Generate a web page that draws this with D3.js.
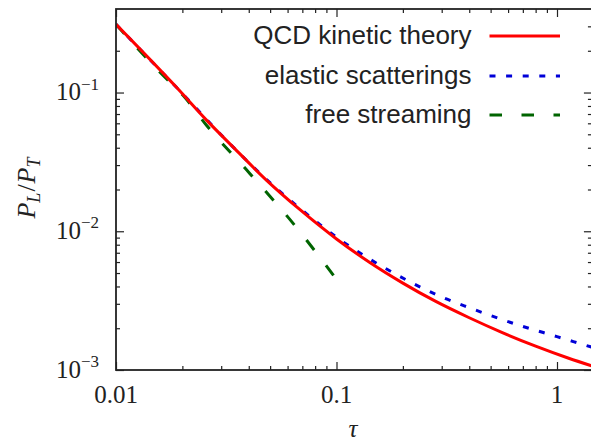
<!DOCTYPE html>
<html>
<head>
<meta charset="utf-8">
<script src="https://cdn.jsdelivr.net/npm/d3@7"></script>
<style>
  html, body { margin: 0; padding: 0; background: #fff; }
  svg { display: block; }
</style>
</head>
<body>
<svg id="chart" width="591" height="443"></svg>
<script>
// ---- data ----
const qcdTau = [0.01, 0.0188, 0.0258, 0.034, 0.0482, 0.0683, 0.1, 0.141, 0.2, 0.282, 0.4, 0.565, 0.8, 1.13, 1.44];
const qcdP   = [0.31, 0.109, 0.063, 0.0404, 0.0233, 0.0143, 0.0088, 0.00598, 0.00423, 0.00312, 0.00238, 0.00186, 0.001486, 0.001216, 0.00107];

const elasticTau = [0.01, 0.0188, 0.034, 0.0526, 0.0683, 0.1037, 0.1575, 0.2154, 0.2944, 0.403, 0.656, 1.0, 1.44];
const elasticP   = [0.31, 0.109, 0.0404, 0.0208, 0.0146, 0.0087, 0.00569, 0.00432, 0.0034, 0.0028, 0.00213, 0.00174, 0.00146];

const freeTau = [0.01, 0.01583, 0.02055, 0.02578, 0.0405, 0.0637, 0.0967, 0.1];
const freeP   = [0.31, 0.14, 0.092, 0.0579, 0.026, 0.01136, 0.00483, 0.0045];

const seriesNames = ["QCD kinetic theory", "elastic scatterings", "free streaming"];

const xTicks = [0.01, 0.1, 1];
const xTickLabels = ["0.01", "0.1", "1"];
const yTicks = [1e-3, 1e-2, 1e-1];
const yTickExponents = ["\u22123", "\u22122", "\u22121"];

// ---- layout ----
const svg = d3.select("#chart");
const L = 116, T = 9, B = 370;
const decX = 220.5;
const xMin = 0.01, xMax = 1.44;
const R = L + decX * Math.log10(xMax / xMin);
const yMin = 1e-3, yMax = 0.4;

const x = d3.scaleLog().domain([xMin, xMax]).range([L, R]);
const y = d3.scaleLog().domain([yMin, yMax]).range([B, T]);

const serif = "'Liberation Serif', 'DejaVu Serif', serif";
const sans = "'Liberation Sans', Arial, Helvetica, sans-serif";
const axisColor = "#222";

// clip
svg.append("defs").append("clipPath").attr("id", "clip")
  .append("rect").attr("x", L).attr("y", T).attr("width", R - L).attr("height", B - T);

// minor tick values
const minorX = [];
for (let d = 0.01; d < 10; d *= 10) for (let k = 2; k <= 9; k++) { const v = d * k; if (v < xMax) minorX.push(v); }
const minorY = [];
for (let d = 0.001; d < 1; d *= 10) for (let k = 2; k <= 9; k++) { const v = d * k; if (v < yMax) minorY.push(v); }

function styleAxis(g) {
  g.select(".domain").remove();
  g.selectAll("line").attr("stroke", axisColor).attr("stroke-width", 1.2);
}

// bottom & top axes
svg.append("g").attr("transform", `translate(0,${B})`)
  .call(d3.axisBottom(x).tickValues(xTicks).tickSizeInner(-8).tickSizeOuter(0).tickFormat(""))
  .call(styleAxis);
svg.append("g").attr("transform", `translate(0,${B})`)
  .call(d3.axisBottom(x).tickValues(minorX).tickSizeInner(-4).tickSizeOuter(0).tickFormat(""))
  .call(styleAxis);
svg.append("g").attr("transform", `translate(0,${T})`)
  .call(d3.axisTop(x).tickValues(xTicks).tickSizeInner(-8).tickSizeOuter(0).tickFormat(""))
  .call(styleAxis);
svg.append("g").attr("transform", `translate(0,${T})`)
  .call(d3.axisTop(x).tickValues(minorX).tickSizeInner(-4).tickSizeOuter(0).tickFormat(""))
  .call(styleAxis);
// left & right axes
svg.append("g").attr("transform", `translate(${L},0)`)
  .call(d3.axisLeft(y).tickValues(yTicks).tickSizeInner(-8).tickSizeOuter(0).tickFormat(""))
  .call(styleAxis);
svg.append("g").attr("transform", `translate(${L},0)`)
  .call(d3.axisLeft(y).tickValues(minorY).tickSizeInner(-4).tickSizeOuter(0).tickFormat(""))
  .call(styleAxis);
svg.append("g").attr("transform", `translate(${R},0)`)
  .call(d3.axisRight(y).tickValues(yTicks).tickSizeInner(-8).tickSizeOuter(0).tickFormat(""))
  .call(styleAxis);
svg.append("g").attr("transform", `translate(${R},0)`)
  .call(d3.axisRight(y).tickValues(minorY).tickSizeInner(-4).tickSizeOuter(0).tickFormat(""))
  .call(styleAxis);

// tick labels
svg.append("g").selectAll("text").data(xTicks).join("text")
  .attr("x", d => x(d)).attr("y", B + 33)
  .attr("text-anchor", "middle")
  .attr("font-family", serif).attr("font-size", 25).attr("fill", "#222")
  .text((d, i) => xTickLabels[i]);

const yl = svg.append("g").selectAll("text").data(yTicks).join("text")
  .attr("x", 99).attr("y", d => y(d) + 7.5)
  .attr("text-anchor", "end")
  .attr("font-family", serif).attr("font-size", 25).attr("fill", "#222");
yl.append("tspan").text("10");
yl.append("tspan").attr("dy", -10.5).attr("font-size", 17).text((d, i) => yTickExponents[i]);

// axis titles
svg.append("text")
  .attr("x", 353).attr("y", 437).attr("text-anchor", "middle")
  .attr("font-family", serif).attr("font-style", "italic").attr("font-size", 25).attr("fill", "#222")
  .text("\u03c4");

const yt = svg.append("text")
  .attr("transform", "translate(35,188) rotate(-90)")
  .attr("text-anchor", "middle")
  .attr("font-family", serif).attr("font-size", 26).attr("fill", "#222");
yt.append("tspan").attr("font-style", "italic").text("P");
yt.append("tspan").attr("font-style", "italic").attr("font-size", 18).attr("dy", 5).text("L");
yt.append("tspan").attr("dy", -5).attr("dx", 1).text("/");
yt.append("tspan").attr("font-style", "italic").attr("dx", 1).text("P");
yt.append("tspan").attr("font-style", "italic").attr("font-size", 18).attr("dy", 5).text("T");

// lines
const line = d3.line().x(d => x(d[0])).y(d => y(d[1])).curve(d3.curveMonotoneX);
const plot = svg.append("g").attr("clip-path", "url(#clip)");

const series = [
  { name: seriesNames[1], tau: elasticTau, p: elasticP, color: "#0000d8", dash: "6,10.6" },
  { name: seriesNames[2], tau: freeTau, p: freeP, color: "#006400", dash: "12.5,19.5" },
  { name: seriesNames[0], tau: qcdTau, p: qcdP, color: "#ff0000", dash: null },
];

series.forEach(s => {
  plot.append("path")
    .datum(s.tau.map((t, i) => [t, s.p[i]]))
    .attr("d", line)
    .attr("fill", "none")
    .attr("stroke", s.color)
    .attr("stroke-width", 3)
    .attr("stroke-dasharray", s.dash);
});

// frame
svg.append("rect").attr("x", L).attr("y", T).attr("width", R - L).attr("height", B - T)
  .attr("fill", "none").attr("stroke", axisColor).attr("stroke-width", 1.8);

// legend
const legendItems = [
  { name: seriesNames[0], color: "#ff0000", dash: null, yy: 36 },
  { name: seriesNames[1], color: "#0000d8", dash: "6,10.6", yy: 76 },
  { name: seriesNames[2], color: "#006400", dash: "12.5,19.5", yy: 115 },
];
const lg = svg.append("g");
legendItems.forEach(it => {
  lg.append("text").attr("x", 471.5).attr("y", it.yy + 7.5)
    .attr("text-anchor", "end").attr("font-family", sans).attr("font-size", 26).attr("fill", "#222")
    .text(it.name);
  lg.append("line").attr("x1", 489.5).attr("x2", 560).attr("y1", it.yy).attr("y2", it.yy)
    .attr("stroke", it.color).attr("stroke-width", 3).attr("stroke-dasharray", it.dash);
});
</script>
</body>
</html>
